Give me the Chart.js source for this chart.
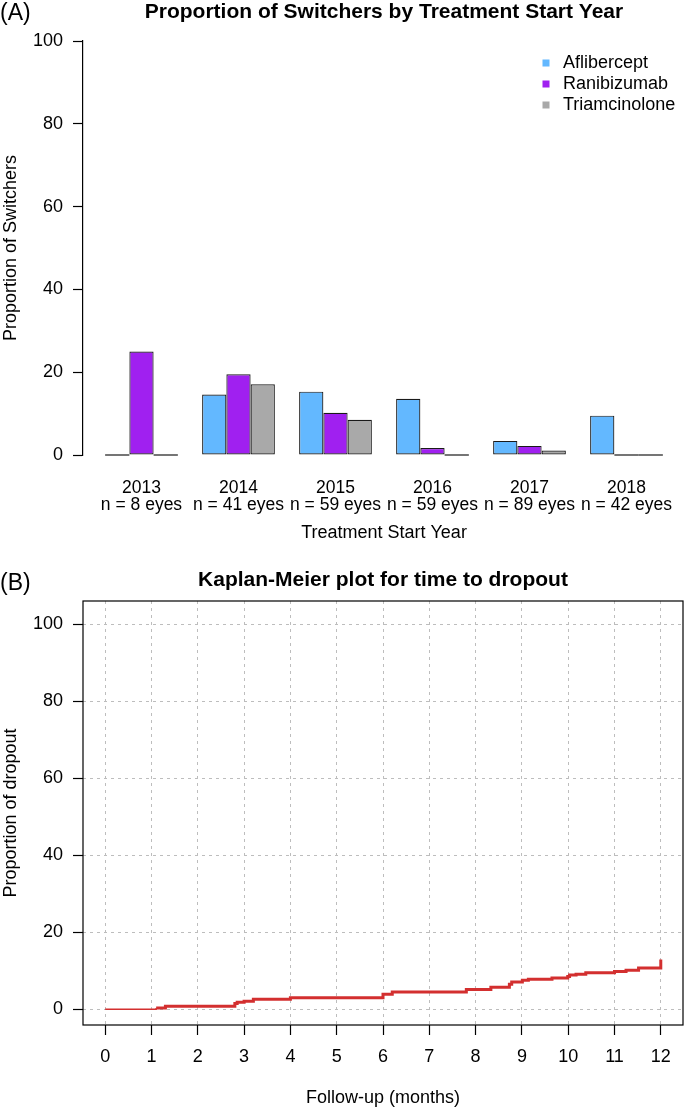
<!DOCTYPE html>
<html lang="en">
<head>
    <meta charset="UTF-8">
    <title>Switchers and dropout</title>
    <script src="https://cdn.jsdelivr.net/npm/chart.js"></script>
    <style>
        body {
            margin: 0;
            background: #fff;
            font-family: "Liberation Sans", Arial, sans-serif;
        }
        .page {
            position: relative;
            width: 685px;
            height: 1110px;
        }
        .panel-tag {
            position: absolute;
            left: 0;
            font-size: 23px;
            color: #000;
        }
        #switchChart { position: absolute; left: 0; top: 0; }
        #kmChart { position: absolute; left: 0; top: 560px; }
    </style>
</head>
<body>
<div class="page">
    <canvas id="switchChart" width="685" height="560"></canvas>
    <canvas id="kmChart" width="685" height="550"></canvas>
    <div class="panel-tag" style="top:-1px">(A)</div>
    <div class="panel-tag" style="top:569px">(B)</div>
</div>

<script>
    // panel A data
    const years = ['2013', '2014', '2015', '2016', '2017', '2018'];
    const eyes = [8, 41, 59, 59, 89, 42];
    const aflibercept = [0, 14.6, 15.3, 13.6, 3.4, 9.5];
    const ranibizumab = [25, 19.5, 10.2, 1.7, 2.2, 0];
    const triamcinolone = [0, 17.1, 8.5, 0, 1.1, 0];

    // panel B data (Kaplan-Meier steps)
    const kmMonths = [0, 1.1, 1.3, 2.8, 2.85, 3.0, 3.2, 4.0, 6.0, 6.2, 7.8, 8.33, 8.73, 8.78,
        9.01, 9.14, 9.65, 9.99, 10.03, 10.17, 10.38, 11.0, 11.25, 11.52, 12.0, 12.0];
    const kmDropout = [0, 0.3, 0.8, 1.5, 1.8, 2.1, 2.6, 3.0, 3.9, 4.5, 5.1, 5.7, 6.5, 7.1,
        7.5, 7.8, 8.1, 8.5, 8.9, 9.1, 9.5, 9.8, 10.1, 10.7, 10.7, 12.9];
    const monthTicks = [0, 1, 2, 3, 4, 5, 6, 7, 8, 9, 10, 11, 12];

    const FONT = '"Liberation Sans", Arial, sans-serif';
    Chart.defaults.font.family = FONT;
    Chart.defaults.font.size = 18;
    Chart.defaults.color = '#000';

    // zero-height bars are drawn as a flat line, like R's barplot
    const zeroBars = {
        id: 'zeroBars',
        afterDatasetsDraw(chart) {
            const ctx = chart.ctx;
            ctx.save();
            ctx.strokeStyle = '#1a1a1a';
            ctx.lineWidth = 1.2;
            chart.data.datasets.forEach((ds, i) => {
                chart.getDatasetMeta(i).data.forEach((el, j) => {
                    if (ds.data[j] !== 0) return;
                    const p = el.getProps(['x', 'width', 'base']);
                    ctx.beginPath();
                    ctx.moveTo(p.x - p.width / 2, p.base);
                    ctx.lineTo(p.x + p.width / 2, p.base);
                    ctx.stroke();
                });
            });
            ctx.restore();
        }
    };

    const cornerLegend = {
        id: 'cornerLegend',
        afterDraw(chart, args, opts) {
            if (!opts.display) return;
            const ctx = chart.ctx;
            ctx.save();
            ctx.font = '18px ' + FONT;
            ctx.textBaseline = 'middle';
            chart.data.datasets.forEach((ds, i) => {
                const y = opts.y + i * opts.rowGap;
                ctx.fillStyle = ds.backgroundColor;
                ctx.fillRect(opts.x - 3.5, y - 3.5, 7, 7);
                ctx.fillStyle = '#000';
                ctx.fillText(ds.label, opts.x + 17, y);
            });
            ctx.restore();
        }
    };

    const plotBox = {
        id: 'plotBox',
        afterDraw(chart, args, opts) {
            if (!opts.display) return;
            const {ctx, chartArea: a} = chart;
            ctx.save();
            ctx.strokeStyle = '#000';
            ctx.lineWidth = 1.2;
            ctx.strokeRect(a.left, a.top, a.right - a.left, a.bottom - a.top);
            ctx.restore();
        }
    };

    new Chart(document.getElementById('switchChart'), {
        type: 'bar',
        data: {
            labels: years.map((y, i) => [y, 'n = ' + eyes[i] + ' eyes']),
            datasets: [
                { label: 'Aflibercept', data: aflibercept, backgroundColor: '#63B8FF' },
                { label: 'Ranibizumab', data: ranibizumab, backgroundColor: '#A020F0' },
                { label: 'Triamcinolone', data: triamcinolone, backgroundColor: '#A9A9A9' }
            ]
        },
        options: {
            responsive: false,
            animation: false,
            layout: { padding: 0 },
            datasets: {
                bar: {
                    categoryPercentage: 0.75,
                    barPercentage: 1,
                    borderColor: '#1a1a1a',
                    borderWidth: 1.2,
                    borderSkipped: false
                }
            },
            scales: {
                x: {
                    grid: { display: false },
                    border: { display: false },
                    ticks: {
                        padding: 17,
                        autoSkip: false,
                        maxRotation: 0,
                        minRotation: 0,
                        font: { size: 17.5, lineHeight: 0.97 }
                    },
                    title: { display: true, text: 'Treatment Start Year', padding: { top: 0, bottom: 16 } },
                    afterFit: (s) => { s.height = 105; s.paddingLeft = 0; s.paddingRight = 0; },
                    // widen the range so the groups sit where R puts them
                    afterBuildTicks: (s) => { s._startValue = -0.603; s._valueRange = 602 / 97; }
                },
                y: {
                    min: 0,
                    max: 100,
                    ticks: { stepSize: 20, padding: 10 },
                    grid: { drawOnChartArea: false, tickLength: 10, tickColor: '#000', tickWidth: 1.2 },
                    border: { color: '#000', width: 1.2 },
                    title: { display: true, text: 'Proportion of Switchers', padding: 0 },
                    afterFit: (s) => { s.width = 83; }
                }
            },
            plugins: {
                legend: { display: false },
                tooltip: { enabled: false },
                title: {
                    display: true,
                    fullSize: false,
                    text: 'Proportion of Switchers by Treatment Start Year',
                    font: { size: 21, weight: 'bold' },
                    padding: { top: 0, bottom: 15.8 }
                },
                cornerLegend: { display: true, x: 546, y: 63, rowGap: 21 }
            }
        },
        plugins: [zeroBars, cornerLegend]
    });

    new Chart(document.getElementById('kmChart'), {
        type: 'line',
        data: {
            datasets: [{
                label: 'Dropout',
                data: kmMonths.map((t, i) => ({ x: t, y: kmDropout[i] })),
                borderColor: '#D32F2F',
                borderWidth: 3,
                segment: { borderWidth: (c) => (c.p0DataIndex === 0 ? 1.5 : 3) },
                pointRadius: 0,
                stepped: true,
                fill: false
            }]
        },
        options: {
            responsive: false,
            animation: false,
            layout: { padding: { right: 2, bottom: 0 } },
            scales: {
                x: {
                    type: 'linear',
                    min: -0.48,
                    max: 12.48,
                    afterBuildTicks: (s) => { s.ticks = monthTicks.map(v => ({ value: v })); },
                    ticks: { padding: 11, autoSkip: false, maxRotation: 0 },
                    grid: { color: '#bdbdbd', lineWidth: 1, tickLength: 10, tickColor: '#000', tickWidth: 1.2 },
                    border: { display: false, dash: [3, 4] },
                    title: { display: true, text: 'Follow-up (months)', padding: { top: 0, bottom: 1 } },
                    afterFit: (s) => { s.height = 85; s.paddingLeft = 0; s.paddingRight = 0; }
                },
                y: {
                    min: -4.1,
                    max: 106.1,
                    afterBuildTicks: (s) => { s.ticks = [0, 20, 40, 60, 80, 100].map(v => ({ value: v })); },
                    ticks: { padding: 10 },
                    grid: { color: '#bdbdbd', lineWidth: 1, tickLength: 10, tickColor: '#000', tickWidth: 1.2 },
                    border: { display: false, dash: [3, 4] },
                    title: { display: true, text: 'Proportion of dropout', padding: 0 },
                    afterFit: (s) => { s.width = 83; }
                }
            },
            plugins: {
                legend: { display: false },
                tooltip: { enabled: false },
                title: {
                    display: true,
                    fullSize: false,
                    text: 'Kaplan-Meier plot for time to dropout',
                    font: { size: 21, weight: 'bold' },
                    padding: { top: 7.4, bottom: 8.4 }
                },
                plotBox: { display: true }
            }
        },
        plugins: [plotBox]
    });
</script>
</body>
</html>
